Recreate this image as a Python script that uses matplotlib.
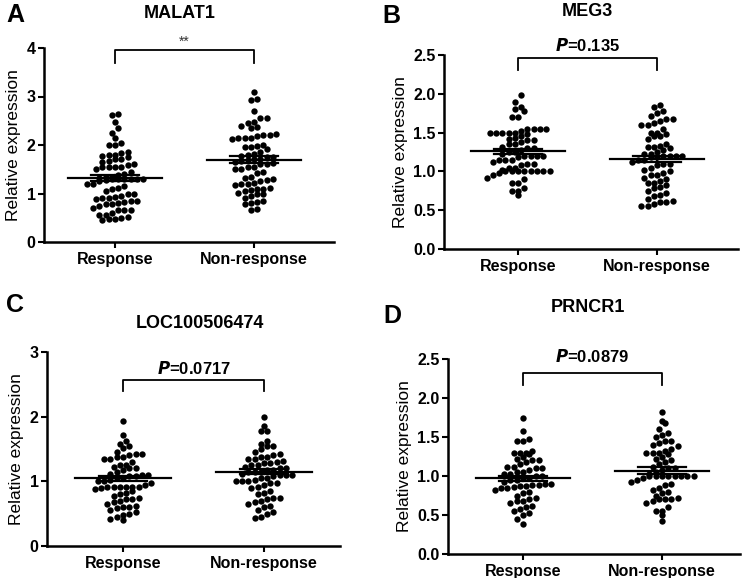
import numpy as np
import matplotlib
matplotlib.use("Agg")
import matplotlib.pyplot as plt

plt.rcParams['font.family'] = ['Liberation Sans', 'DejaVu Sans']

groups = ["Response", "Non-response"]

malat1_resp = [2.63, 2.62, 2.48, 2.35, 2.25, 2.15, 2.05, 2.0, 2.0, 1.85, 1.83, 1.8, 1.8,
               1.78, 1.75, 1.72, 1.72, 1.68, 1.65, 1.6, 1.58, 1.55, 1.55, 1.55, 1.55, 1.5,
               1.45, 1.4, 1.38, 1.35, 1.33, 1.32, 1.3, 1.3, 1.3, 1.3, 1.3, 1.3, 1.28, 1.25,
               1.2, 1.2, 1.15, 1.12, 1.1, 1.05, 1.0, 1.0, 0.95, 0.92, 0.9, 0.9, 0.88, 0.85,
               0.85, 0.82, 0.8, 0.78, 0.78, 0.75, 0.7, 0.65, 0.65, 0.65, 0.6, 0.55, 0.55,
               0.52, 0.5, 0.48, 0.47, 0.46]
malat1_non = [3.1, 2.95, 2.92, 2.7, 2.55, 2.55, 2.48, 2.45, 2.4, 2.38, 2.35, 2.22, 2.2, 2.2,
              2.18, 2.15, 2.15, 2.15, 2.12, 2.0, 1.98, 1.95, 1.95, 1.92, 1.85, 1.82, 1.8, 1.78,
              1.75, 1.75, 1.72, 1.72, 1.7, 1.68, 1.65, 1.62, 1.6, 1.6, 1.55, 1.55, 1.5, 1.5,
              1.45, 1.42, 1.35, 1.32, 1.3, 1.28, 1.25, 1.22, 1.2, 1.2, 1.18, 1.12, 1.1, 1.1,
              1.08, 1.05, 1.02, 1.0, 0.98, 0.95, 0.9, 0.85, 0.82, 0.8, 0.78, 0.68, 0.65]

meg3_resp = [1.98, 1.9, 1.83, 1.8, 1.78, 1.7, 1.7, 1.55, 1.55, 1.55, 1.55, 1.52, 1.5, 1.5,
             1.5, 1.5, 1.5, 1.48, 1.45, 1.43, 1.42, 1.4, 1.4, 1.38, 1.35, 1.35, 1.32, 1.3,
             1.3, 1.28, 1.25, 1.25, 1.22, 1.2, 1.2, 1.2, 1.2, 1.18, 1.15, 1.15, 1.15, 1.12,
             1.1, 1.1, 1.08, 1.05, 1.05, 1.02, 1.0, 1.0, 1.0, 1.0, 1.0, 1.0, 1.0, 1.0, 0.98,
             0.95, 0.92, 0.9, 0.85, 0.85, 0.78, 0.75, 0.75, 0.7]
meg3_non = [1.85, 1.83, 1.78, 1.75, 1.72, 1.68, 1.68, 1.65, 1.62, 1.6, 1.6, 1.55, 1.5, 1.5,
            1.48, 1.45, 1.45, 1.42, 1.35, 1.33, 1.32, 1.32, 1.3, 1.28, 1.25, 1.22, 1.22, 1.2,
            1.2, 1.2, 1.2, 1.18, 1.18, 1.15, 1.15, 1.12, 1.1, 1.1, 1.08, 1.05, 1.02, 1.0,
            0.98, 0.95, 0.95, 0.92, 0.9, 0.88, 0.85, 0.85, 0.82, 0.8, 0.78, 0.75, 0.72, 0.7,
            0.68, 0.65, 0.62, 0.6, 0.6, 0.58, 0.55, 0.55]

loc_resp = [1.93, 1.72, 1.63, 1.57, 1.55, 1.52, 1.45, 1.42, 1.42, 1.4, 1.38, 1.38, 1.35,
            1.35, 1.3, 1.25, 1.25, 1.22, 1.2, 1.2, 1.18, 1.15, 1.12, 1.1, 1.1, 1.08, 1.08,
            1.05, 1.05, 1.02, 1.0, 1.0, 0.98, 0.95, 0.92, 0.92, 0.92, 0.92, 0.92, 0.92, 0.9,
            0.88, 0.85, 0.82, 0.8, 0.78, 0.75, 0.72, 0.72, 0.7, 0.68, 0.65, 0.62, 0.6, 0.6,
            0.58, 0.55, 0.52, 0.5, 0.48, 0.45, 0.42, 0.4]
loc_non = [2.0, 1.85, 1.78, 1.78, 1.62, 1.57, 1.55, 1.55, 1.5, 1.45, 1.42, 1.4, 1.38, 1.38,
           1.35, 1.35, 1.32, 1.3, 1.28, 1.28, 1.25, 1.25, 1.22, 1.2, 1.2, 1.18, 1.18, 1.15,
           1.15, 1.15, 1.12, 1.1, 1.1, 1.1, 1.08, 1.05, 1.05, 1.02, 1.0, 1.0, 1.0, 0.98,
           0.98, 0.95, 0.92, 0.9, 0.85, 0.82, 0.8, 0.75, 0.75, 0.72, 0.7, 0.68, 0.65, 0.62,
           0.6, 0.55, 0.52, 0.5, 0.45, 0.44]

prncr1_resp = [1.75, 1.58, 1.48, 1.45, 1.45, 1.32, 1.3, 1.3, 1.3, 1.28, 1.25, 1.22, 1.2,
               1.2, 1.18, 1.15, 1.12, 1.12, 1.1, 1.1, 1.08, 1.05, 1.05, 1.02, 1.02, 1.0, 1.0,
               0.98, 0.98, 0.95, 0.95, 0.92, 0.9, 0.9, 0.88, 0.88, 0.87, 0.87, 0.86, 0.85,
               0.85, 0.82, 0.8, 0.78, 0.75, 0.72, 0.7, 0.68, 0.68, 0.65, 0.62, 0.6, 0.58,
               0.55, 0.52, 0.5, 0.45, 0.38]
prncr1_non = [1.82, 1.7, 1.68, 1.6, 1.55, 1.52, 1.5, 1.45, 1.45, 1.42, 1.4, 1.38, 1.35,
              1.32, 1.3, 1.3, 1.3, 1.28, 1.25, 1.22, 1.2, 1.18, 1.15, 1.12, 1.1, 1.1, 1.08,
              1.05, 1.02, 1.0, 1.0, 1.0, 1.0, 1.0, 1.0, 1.0, 1.0, 0.98, 0.95, 0.92, 0.9,
              0.88, 0.85, 0.82, 0.8, 0.78, 0.75, 0.72, 0.7, 0.7, 0.7, 0.68, 0.65, 0.6, 0.55,
              0.55, 0.5, 0.42]

titles = ["MALAT1", "MEG3", "LOC100506474", "PRNCR1"]
letters = ["A", "B", "C", "D"]
p_texts = ["**", "$\\mathbfit{P}$=0.135", "$\\mathbfit{P}$=0.0717", "$\\mathbfit{P}$=0.0879"]
means = [(1.32, 1.70), (1.26, 1.16), (1.05, 1.15), (0.97, 1.07)]
sems = [(0.06, 0.07), (0.03, 0.04), (0.04, 0.04), (0.035, 0.04)]
ymax = [4, 2.5, 3, 2.5]
yticks = [[0, 1, 2, 3, 4], [0, 0.5, 1, 1.5, 2, 2.5], [0, 1, 2, 3], [0, 0.5, 1, 1.5, 2, 2.5]]
bracket = [(3.96, 3.7, 4.12), (2.46, 2.31, 2.62), (2.57, 2.40, 2.75), (2.32, 2.17, 2.53)]
data = [(malat1_resp, malat1_non), (meg3_resp, meg3_non),
        (loc_resp, loc_non), (prncr1_resp, prncr1_non)]

W, H = 743, 578
# axes boxes in pixels: left, right, top, bottom ; group centre pixels
boxes = [(44, 334, 48, 242, 115, 254), (444, 738, 55, 249, 518, 657),
         (47, 340, 352, 546, 123, 264), (448, 740, 359, 554, 523, 662)]
title_pos = [(180, 13), (587, 12), (200, 323), (588, 308)]
letter_pos = [(15, 15), (391, 16), (15, 305), (392, 316)]


def swarm(vals, px_per_y, row, dx):
    # row-binned dot plot (prism style), returns x offsets in pixels
    bins = np.round(vals * px_per_y / row).astype(int)
    offs = np.zeros(len(vals))
    for bn in np.unique(bins):
        idx = np.where(bins == bn)[0]
        idx = idx[np.argsort(vals[idx])]
        k = len(idx)
        for j, i in enumerate(idx):
            offs[i] = (j - (k - 1) / 2) * dx
    return offs


fig = plt.figure(figsize=(W / 100, H / 100), dpi=100)

for n in range(4):
    l, r, t, b, c0, c1 = boxes[n]
    ax = fig.add_axes([l / W, 1 - b / H, (r - l) / W, (b - t) / H])
    sp = c1 - c0
    ax.set_xlim((l - c0) / sp, (r - c0) / sp)
    ax.set_ylim(0, ymax[n])
    px_per_y = (b - t) / ymax[n]
    for g in range(2):
        vals = np.array(data[n][g])
        offs = swarm(vals, px_per_y, 7.5, 6.3) / sp
        ax.scatter(g + offs, vals, s=21, color="black", linewidths=0, zorder=3)
        m, se = means[n][g], sems[n][g]
        ax.plot([g - 0.34, g + 0.34], [m, m], color="black", lw=1.6, zorder=4)
        for v in (m - se, m + se):
            ax.plot([g - 0.17, g + 0.17], [v, v], color="black", lw=1.6, zorder=4)
        ax.plot([g, g], [m - se, m + se], color="black", lw=1.6, zorder=4)

    top, low, ty = bracket[n]
    ax.plot([0, 0, 1, 1], [low, top, top, low], color="black", lw=1.3, clip_on=False)
    if n == 0:
        ax.text(0.5, ty, p_texts[n], ha="center", va="center", fontsize=10,
                color="#333333", clip_on=False)
    else:
        ax.text(0.5, ty, p_texts[n], ha="center", va="center", fontsize=12,
                fontweight="bold", clip_on=False)

    ax.set_xticks([0, 1])
    ax.set_xticklabels(groups, fontsize=11.5, fontweight="bold")
    ax.set_yticks(yticks[n])
    if n in (1, 3):
        ax.set_yticklabels(["%.1f" % v for v in yticks[n]])
    else:
        ax.set_yticklabels(["%d" % v for v in yticks[n]])
    for lab in ax.get_yticklabels():
        lab.set_fontweight("bold")
        lab.set_fontsize(11.5)
    ax.tick_params(axis="both", direction="out", length=4, width=1.5, pad=2)
    ax.tick_params(axis="x", pad=3)
    for s in ("top", "right"):
        ax.spines[s].set_visible(False)
    for s in ("left", "bottom"):
        ax.spines[s].set_linewidth(1.8)
    ax.set_ylabel("Relative expression", fontsize=12.5, labelpad=4)

    tx, tyy = title_pos[n]
    fig.text(tx / W, 1 - tyy / H, titles[n], ha="center", va="center",
             fontsize=13, fontweight="bold")
    lx, ly = letter_pos[n]
    fig.text(lx / W, 1 - ly / H, letters[n], ha="center", va="center",
             fontsize=18, fontweight="bold")

fig.savefig("out.png", dpi=100)
